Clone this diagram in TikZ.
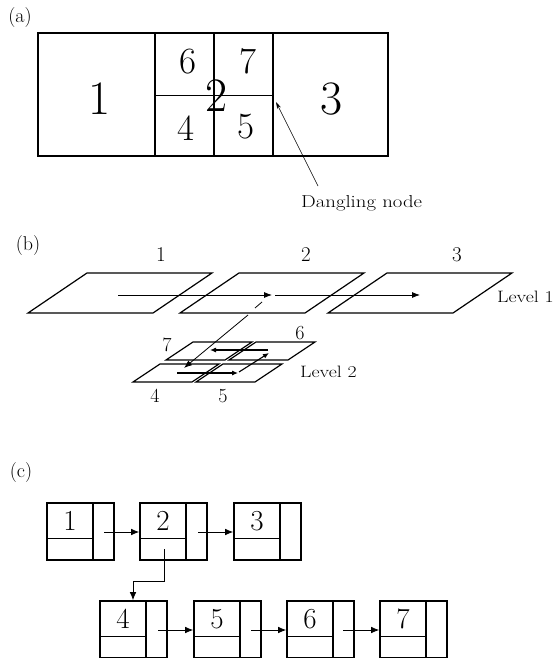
\documentclass[tikz,border=0pt]{standalone}
\usepackage{fontspec}
\newfontfamily\widefont{Latin Modern Roman}[FakeStretch=1.2]
\usetikzlibrary{arrows.meta,calc}
\newcommand{\myfs}[1]{\fontsize{#1}{#1}\selectfont}
\newcommand{\plane}[5]{\draw[planeln] (#1,#2) -- ++(#3,0) -- ++(#5,-#4) -- ++(-#3,0) -- cycle;}
\newcommand{\recnode}[4]{%
  \node[recbox] (#1) at (#2+33.5,#3+28.5) {};
  \draw[divv] (#2+46,#3) -- (#2+46,#3+57);
  \draw[divh] (#2,#3+35) -- (#2+46,#3+35);
  \node[recnum] (#1n) at (#2+23,#3+18) {#4};
}
\tikzset{
  tag/.style={inner sep=0pt, font=\myfs{20}},
  bigA/.style={inner sep=0pt, font=\myfs{48}},
  midA/.style={inner sep=0pt, font=\myfs{37}},
  numB/.style={inner sep=0pt, font=\myfs{21}},
  numBs/.style={inner sep=0pt, font=\myfs{20}},
  lvl/.style={inner sep=0pt, anchor=base west, font=\widefont\myfs{16.5}},
  planeln/.style={line width=1.2pt, line join=miter},
  arrb/.style={-{Latex[length=8pt,width=6pt]}, line width=0.8pt},
  arrs/.style={-{Latex[length=6pt,width=5pt]}, line width=1.1pt},
  arrc/.style={-{Latex[length=8pt,width=6.5pt]}, line width=0.8pt},
  recbox/.style={draw, line width=1.6pt, minimum width=67pt, minimum height=57pt, inner sep=0pt},
  divv/.style={line width=1.2pt},
  divh/.style={line width=0.8pt},
  recnum/.style={inner sep=0pt, font=\myfs{29}},
}
\begin{document}
\begin{tikzpicture}[x=1pt,y=-1pt]
\useasboundingbox (0,0) rectangle (557,658);

% ---------- (a) ----------
\node[tag] (la) at (20,18) {(a)};
\draw[line width=1.8pt] (38,33) rectangle (388,156);
\draw[line width=1.4pt] (155,33) -- (155,156);
\draw[line width=1.4pt] (273,33) -- (273,156);
\draw[line width=1.1pt] (214,33) -- (214,156);
\draw[line width=0.6pt] (155,95) -- (273,95);
\node[bigA] (a1) at (100,99) {1};
\node[bigA] (a2) at (217,96) {2};
\node[bigA] (a3) at (332,99) {3};
\node[midA] (a6) at (188,62) {6};
\node[midA] (a7) at (248,61) {7};
\node[midA] (a4) at (186,128) {4};
\node[midA] (a5) at (246,127) {5};
\node[inner sep=0pt, anchor=base west, font=\widefont\myfs{17.3}] (dn) at (301,207) {Dangling node};
\coordinate (dtail) at (318,186);
\coordinate (dtip) at (276,102);
\draw[-{Stealth[length=7pt,width=4pt]}, line width=0.6pt] (dtail) -- (dtip);

% ---------- (b) ----------
\node[tag] (lb) at (28,246) {(b)};
\plane{28}{313}{125}{40}{59}
\plane{180}{313}{125}{40}{59}
\plane{328}{313}{125}{40}{59}
\plane{133}{382}{59}{18}{27}
\plane{196}{382}{59}{18}{27}
\plane{166}{360}{59}{18}{27}
\plane{229}{360}{59}{18}{27}
\node[numB] (b1) at (161,255) {1};
\node[numB] (b2) at (306,255) {2};
\node[numB] (b3) at (457,255) {3};
\node[numBs] (b7) at (167,345) {7};
\node[numBs] (b6) at (300,333) {6};
\node[numBs] (b4) at (155,396) {4};
\node[numBs] (b5) at (223,396) {5};
\node[lvl] (lv1) at (497,302) {Level 1};
\node[lvl] (lv2) at (300,377) {Level 2};
\draw[arrb] (118,295) -- (272,295);
\draw[arrb] (275,295) -- (420,295);
\draw[line width=0.8pt] (262,302) -- (255,308);
\draw[arrb] (248,315) -- (184,368);
\draw[arrs] (177,373) -- (238,373);
\draw[arrs] (239,372) -- (269,353);
\draw[arrs] (268,350) -- (210,350);

% ---------- (c) ----------
\node[tag] (lc) at (21,473) {(c)};
\recnode{r1}{47}{503}{1}
\recnode{r2}{140}{503}{2}
\recnode{r3}{234}{503}{3}
\recnode{r4}{100}{601}{4}
\recnode{r5}{194}{601}{5}
\recnode{r6}{287}{601}{6}
\recnode{r7}{380}{601}{7}
\coordinate (t1) at (104,532);
\coordinate (t2) at (198,532);
\coordinate (t4) at (158,630);
\coordinate (t5) at (251,630);
\coordinate (t6) at (343,630);
\coordinate (t24) at (164,549);
\coordinate (k24) at (133,581);
\draw[arrc] (t1) -- (t1 -| r2.west);
\draw[arrc] (t2) -- (t2 -| r3.west);
\draw[arrc] (t4) -- (t4 -| r5.west);
\draw[arrc] (t5) -- (t5 -| r6.west);
\draw[arrc] (t6) -- (t6 -| r7.west);
\draw[arrc] (t24) |- (k24) -- (k24 |- r4.north);
\end{tikzpicture}
\end{document}
